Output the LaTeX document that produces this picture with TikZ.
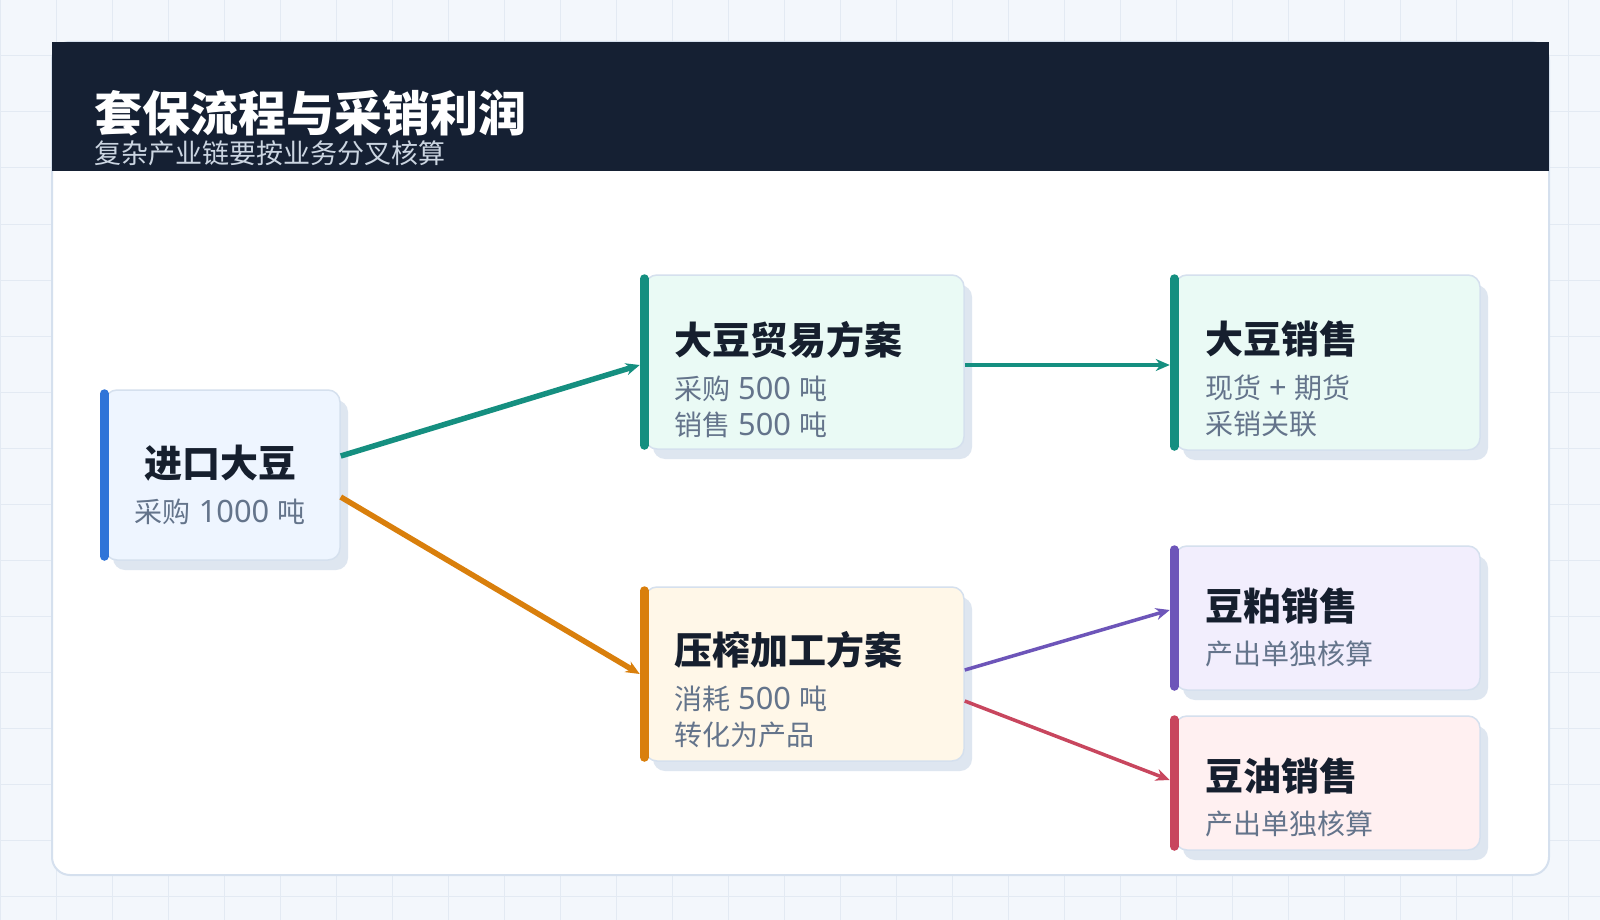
\documentclass[tikz,border=0pt]{standalone}
\usepackage{fontspec}
\setmainfont{Noto Sans CJK SC}
\newfontfamily\lat[Scale=1.1]{Noto Sans}
\usetikzlibrary{arrows.meta,shadows}

\definecolor{pagebg}{HTML}{F3F7FC}
\definecolor{gridc}{HTML}{E3EAF3}
\definecolor{cardline}{HTML}{D5E0EE}
\definecolor{headbg}{HTML}{152033}
\definecolor{headsub}{HTML}{CBD5E1}
\definecolor{ink}{HTML}{161F2E}
\definecolor{muted}{HTML}{64748B}
\definecolor{shade}{HTML}{DEE6F0}
\definecolor{bluebar}{HTML}{2F74D8}
\definecolor{bluefill}{HTML}{EEF5FF}
\definecolor{tealbar}{HTML}{158F80}
\definecolor{tealfill}{HTML}{EAFAF5}
\definecolor{orangebar}{HTML}{D97F0C}
\definecolor{orangefill}{HTML}{FFF7E8}
\definecolor{purplebar}{HTML}{6D55B9}
\definecolor{purplefill}{HTML}{F2EEFD}
\definecolor{redbar}{HTML}{C8465E}
\definecolor{redfill}{HTML}{FFF0F1}

\tikzset{
  card/.style={draw=cardline, line width=1.5pt, rounded corners=12pt, inner sep=0pt,
    drop shadow={shadow xshift=8pt, shadow yshift=-10pt, fill=shade, opacity=1}},
  accent/.style={line width=9pt, line cap=round},
  ttl/.style={font=\bfseries\fontsize{38pt}{44pt}\selectfont, text=ink, inner sep=0pt},
  subtxt/.style={font=\fontsize{28pt}{34pt}\selectfont, text=muted, inner sep=0pt},
}

\begin{document}
\begin{tikzpicture}[x=1pt, y=-1pt, >={Stealth[length=14pt, width=12pt]}]
\useasboundingbox (0,0) rectangle (1600,920);
\fill[pagebg] (0,0) rectangle (1600,920);
\foreach \g in {0,56,...,1600} \draw[gridc, line width=1pt] (\g,0) -- (\g,920);
\foreach \g in {0,56,...,920} \draw[gridc, line width=1pt] (0,\g) -- (1600,\g);

% card and header
\draw[cardline, line width=2pt, fill=white, rounded corners=18pt] (52,42) rectangle (1549,875);
\fill[headbg] (52,42) rectangle (1549,171);
\node[anchor=base west, inner sep=0pt, text=white, font=\bfseries\fontsize{48pt}{56pt}\selectfont] (title) at (94,131.5) {套保流程与采销利润};
\node[anchor=base west, inner sep=0pt, text=headsub, font=\fontsize{27pt}{32pt}\selectfont] (subtitle) at (94,164) {复杂产业链要按业务分叉核算};

% boxes
\node[card, fill=bluefill, minimum width=235pt, minimum height=170pt] (imp) at (222.5,475) {};
\node[card, fill=tealfill, minimum width=319pt, minimum height=174pt] (trade) at (804.5,362) {};
\node[card, fill=tealfill, minimum width=305pt, minimum height=175pt] (spot) at (1327.5,362.5) {};
\node[card, fill=orangefill, minimum width=319pt, minimum height=174pt] (press) at (804.5,674) {};
\node[card, fill=purplefill, minimum width=305pt, minimum height=144pt] (meal) at (1327.5,618) {};
\node[card, fill=redfill, minimum width=305pt, minimum height=134pt] (oil) at (1327.5,783) {};

\draw[accent, bluebar] ([yshift=-4.5pt]imp.north west) -- ([yshift=4.5pt]imp.south west);
\draw[accent, tealbar] ([yshift=-4.5pt]trade.north west) -- ([yshift=4.5pt]trade.south west);
\draw[accent, tealbar] ([yshift=-4.5pt]spot.north west) -- ([yshift=4.5pt]spot.south west);
\draw[accent, orangebar] ([yshift=-4.5pt]press.north west) -- ([yshift=4.5pt]press.south west);
\draw[accent, purplebar] ([yshift=-4.5pt]meal.north west) -- ([yshift=4.5pt]meal.south west);
\draw[accent, redbar] ([yshift=-4.5pt]oil.north west) -- ([yshift=4.5pt]oil.south west);

% texts
\node[ttl, anchor=base] (impT) at (220,477.5) {进口大豆};
\node[subtxt, anchor=base] (impS) at (220,522) {采购{\lat\ 1000\ }吨};
\node[ttl, anchor=base west] (tradeT) at (674,354) {大豆贸易方案};
\node[subtxt, anchor=base west] (tradeS) at (674,399) {采购{\lat\ 500\ }吨};
\node[subtxt, anchor=base west] (tradeS2) at (674,435) {销售{\lat\ 500\ }吨};
\node[ttl, anchor=base west] (spotT) at (1205,353.5) {大豆销售};
\node[subtxt, anchor=base west] (spotS) at (1205,398) {现货{\lat\ +\ }期货};
\node[subtxt, anchor=base west] (spotS2) at (1205,434) {采销关联};
\node[ttl, anchor=base west] (pressT) at (674,664) {压榨加工方案};
\node[subtxt, anchor=base west] (pressS) at (674,709) {消耗{\lat\ 500\ }吨};
\node[subtxt, anchor=base west] (pressS2) at (674,745) {转化为产品};
\node[ttl, anchor=base west] (mealT) at (1205,620.5) {豆粕销售};
\node[subtxt, anchor=base west] (mealS) at (1205,664) {产出单独核算};
\node[ttl, anchor=base west] (oilT) at (1205,790.5) {豆油销售};
\node[subtxt, anchor=base west] (oilS) at (1205,834) {产出单独核算};

% connectors
\draw[->, tealbar, line width=5.5pt] ([yshift=19pt]imp.east) -- ([xshift=-4.5pt,yshift=-3pt]trade.west);
\draw[->, orangebar, line width=5.5pt] ([yshift=-22pt]imp.east) -- ([xshift=-4.5pt]press.west);
\draw[->, tealbar, line width=4pt] ([yshift=-3pt]trade.east) -- ([xshift=-4.5pt,yshift=-2.5pt]spot.west);
\draw[->, purplebar, line width=3.5pt] ([yshift=4pt]press.east) -- ([xshift=-4.5pt,yshift=8pt]meal.west);
\draw[->, redbar, line width=3.5pt] ([yshift=-27pt]press.east) -- ([xshift=-4.5pt,yshift=3pt]oil.west);
\end{tikzpicture}
\end{document}
